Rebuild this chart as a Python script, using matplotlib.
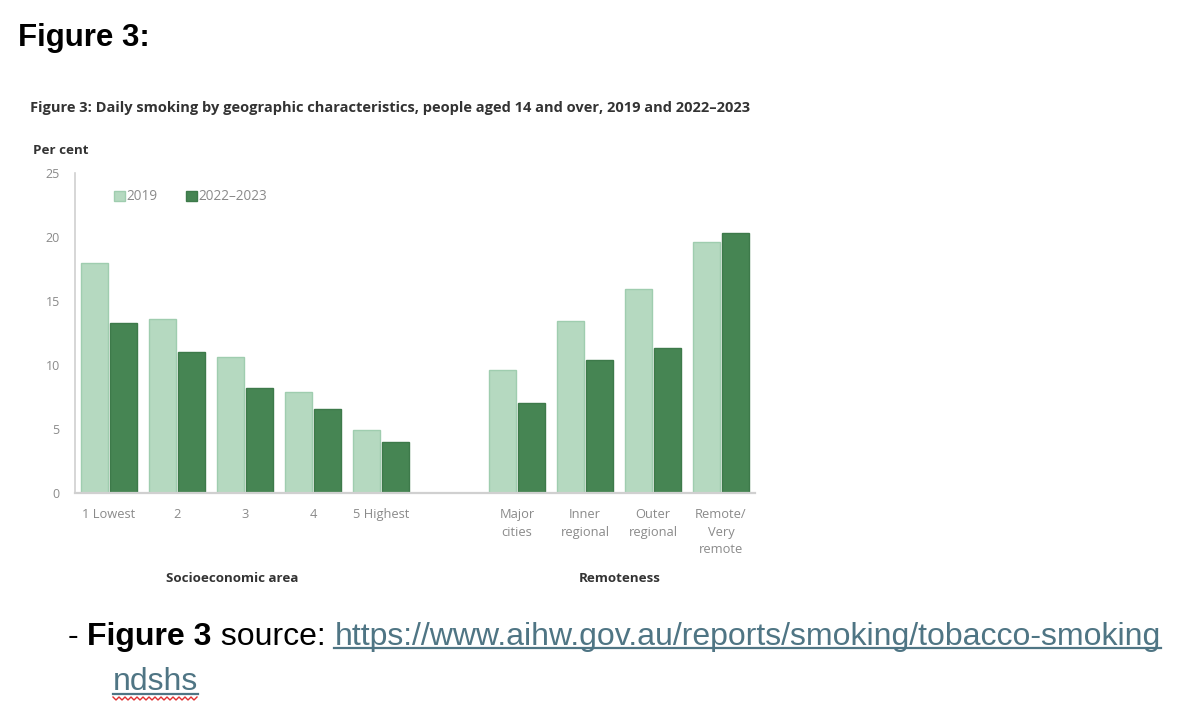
import numpy as np
import matplotlib
matplotlib.use("Agg")
import matplotlib.pyplot as plt

# data
categories = ["1 Lowest", "2", "3", "4", "5 Highest",
              "Major\ncities", "Inner\nregional", "Outer\nregional", "Remote/\nVery\nremote"]
positions = [0, 1, 2, 3, 4, 6, 7, 8, 9]
vals_2019 = [18.0, 13.6, 10.6, 7.9, 4.9, 9.6, 13.4, 15.9, 19.6]
vals_2022 = [13.3, 11.0, 8.2, 6.6, 4.0, 7.0, 10.4, 11.3, 20.3]
series_names = ["2019", "2022\u20132023"]
yticks = [0, 5, 10, 15, 20, 25]

light = "#b5d9c0"
light_edge = "#9fcdaf"
dark = "#468553"
dark_edge = "#3d7a4a"
grey = "#8a8a8a"

W, H = 1178, 722
fig = plt.figure(figsize=(W / 100, H / 100), dpi=100)

def fx(px):
    return px / W

def fy(py):
    return 1 - py / H

ax = fig.add_axes([fx(75), fy(493), fx(755) - fx(75), fy(173) - fy(493)])
x = np.array(positions, dtype=float)
bw = 0.40
ax.bar(x - 0.21, vals_2019, bw, color=light, edgecolor=light_edge, linewidth=1, label=series_names[0])
ax.bar(x + 0.21, vals_2022, bw, color=dark, edgecolor=dark_edge, linewidth=1, label=series_names[1])

ax.set_xlim(-0.5, 9.5)
ax.set_ylim(0, 25)
ax.set_yticks(yticks)
ax.set_xticks(positions)
ax.set_xticklabels(categories, fontsize=9.3, color=grey, family="Open Sans", linespacing=1.45, va="top")
for lab in ax.get_yticklabels():
    lab.set_fontsize(9)
    lab.set_color(grey)
    lab.set_family("Open Sans")
ax.tick_params(axis="both", length=0)
ax.tick_params(axis="x", pad=11)
ax.tick_params(axis="y", pad=11)
for s in ["top", "right"]:
    ax.spines[s].set_visible(False)
ax.spines["left"].set_color("#d0d0d0")
ax.spines["bottom"].set_color("#d0d0d0")
ax.spines["left"].set_linewidth(1.2)
ax.spines["bottom"].set_linewidth(1.6)

leg = ax.legend(loc="center left", bbox_to_anchor=(0.04, 0.925), ncol=2, frameon=False,
                handlelength=0.75, handleheight=0.75, handletextpad=0.15, columnspacing=2.1,
                prop={"family": "Open Sans", "size": 9.8})
for t in leg.get_texts():
    t.set_color(grey)

# chart texts
fig.text(fx(30), fy(108), "Figure 3: Daily smoking by geographic characteristics, people aged 14 and over, 2019 and 2022\u20132023",
         fontsize=10.5, fontweight="bold", family="Open Sans", color="#333333", va="center", ha="left")
fig.text(fx(33), fy(150), "Per cent", fontsize=9.6, fontweight="bold", family="Open Sans",
         color="#333333", va="center", ha="left")
fig.text(fx(232), fy(578), "Socioeconomic area", fontsize=9.6, fontweight="bold", family="Open Sans",
         color="#333333", va="center", ha="center")
fig.text(fx(620), fy(578), "Remoteness", fontsize=9.6, fontweight="bold", family="Open Sans",
         color="#333333", va="center", ha="center")

# document text around the chart
fig.text(fx(18), fy(38), "Figure 3:", fontsize=22.5, fontweight="bold", family="Liberation Sans",
         va="center", ha="left")

link_col = "#4f7584"
fs = 23
fig.canvas.draw()
renderer = fig.canvas.get_renderer()
pieces = [("- ", "normal", "black"), ("Figure 3", "bold", "black"),
          (" source: ", "normal", "black"),
          ("https://www.aihw.gov.au/reports/smoking/tobacco-smoking", "normal", link_col)]
cur = 68
base_y = fy(645)
link_box = None
for txt, wt, col in pieces:
    t = fig.text(fx(cur), base_y, txt, fontsize=fs, fontweight=wt, family="Liberation Sans",
                 color=col, va="baseline", ha="left")
    bb = t.get_window_extent(renderer)
    if col == link_col:
        link_box = (cur, cur + bb.width)
    cur += bb.width
fig.add_artist(plt.Line2D([fx(link_box[0]), fx(link_box[1])], [fy(648), fy(648)],
                          color=link_col, linewidth=1.6))

t2 = fig.text(fx(113), fy(690), "ndshs", fontsize=fs, family="Liberation Sans", color=link_col,
              va="baseline", ha="left")
w2 = t2.get_window_extent(renderer).width
fig.add_artist(plt.Line2D([fx(113), fx(113 + w2)], [fy(694), fy(694)], color=link_col, linewidth=1.6))
# spell-check squiggle
zx = np.arange(113, 113 + w2 + 1, 3)
zy = np.where(np.arange(len(zx)) % 2 == 0, 697, 700)
fig.add_artist(plt.Line2D(fx(zx), fy(zy), color="#e03030", linewidth=1.0))

fig.savefig("out.png", dpi=100, facecolor="white")
